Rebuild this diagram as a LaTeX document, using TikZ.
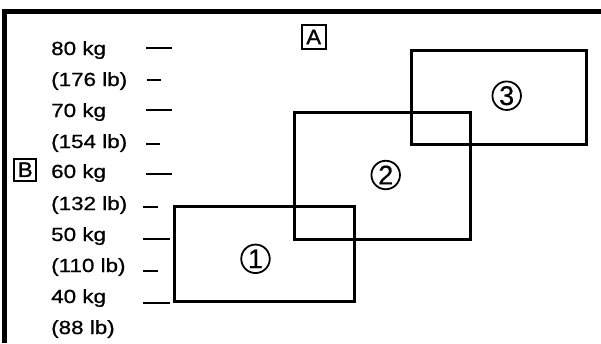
\documentclass[tikz,border=0pt]{standalone}
\usepackage{fontspec}
\setmainfont{Liberation Sans}[FakeStretch=1.18,FakeBold=0.8]
\newfontfamily\circfont{Liberation Sans}[FakeBold=0.5]
\newfontfamily\keyfont{Liberation Sans}[FakeStretch=1.05,FakeBold=1.2]
\begin{document}
\begin{tikzpicture}[x=1pt,y=-1pt,
  lbl/.style={anchor=base west,inner sep=0pt,font=\fontsize{19}{20}\selectfont},
  tick/.style={line width=2pt},
  rbox/.style={draw,line width=3pt,rectangle,inner sep=0pt},
  cnum/.style={draw,circle,line width=1.8pt,minimum size=28.5pt,inner sep=0pt,font=\circfont\fontsize{27}{28}\selectfont},
  keybox/.style={draw,line width=2pt,rectangle,inner sep=0pt,font=\keyfont\fontsize{21}{22}\selectfont}]
\useasboundingbox (0,0) rectangle (601,343);
% frame
\coordinate (tl) at (4.7,11.7);
\coordinate (tr) at (601,11.7);
\coordinate (bl) at (4.7,343);
\draw[line width=4.6pt] (tr) -- (tl) -- (bl);
% labels
\node[lbl] (l80) at (51,55) {80 kg};
\node[lbl] (l176) at (51,86) {(176 lb)};
\node[lbl] (l70) at (51,117) {70 kg};
\node[lbl] (l154) at (51,148) {(154 lb)};
\node[lbl] (l60) at (51,178) {60 kg};
\node[lbl] (l132) at (51,210) {(132 lb)};
\node[lbl] (l50) at (51,241) {50 kg};
\node[lbl] (l110) at (51,272) {(110 lb)};
\node[lbl] (l40) at (51,303) {40 kg};
\node[lbl] (l88) at (51,334) {(88 lb)};
% ticks
\coordinate (t1a) at (146,47.7); \coordinate (t1b) at (172,47.7);
\coordinate (t2a) at (147,80);   \coordinate (t2b) at (161,80);
\coordinate (t3a) at (146,110);  \coordinate (t3b) at (172,110);
\coordinate (t4a) at (146,144);  \coordinate (t4b) at (160,144);
\coordinate (t5a) at (146,174);  \coordinate (t5b) at (172,174);
\coordinate (t6a) at (143,207);  \coordinate (t6b) at (158,207);
\coordinate (t7a) at (143,239);  \coordinate (t7b) at (170,239);
\coordinate (t8a) at (143,271);  \coordinate (t8b) at (158,271);
\coordinate (t9a) at (143,303);  \coordinate (t9b) at (170,303);
\foreach \i in {1,...,9} {\draw[tick] (t\i a) -- (t\i b);}
% key boxes
\node[keybox,minimum width=24pt,minimum height=24pt] (A) at (313.7,37) {A};
\node[keybox,minimum width=22pt,minimum height=22pt] (B) at (25.3,169.7) {B};
% rectangles
\node[rbox,minimum width=180pt,minimum height=95pt] (b1) at (264,253.5) {};
\node[rbox,minimum width=176pt,minimum height=127pt] (b2) at (382.7,175.5) {};
\node[rbox,minimum width=174.7pt,minimum height=94pt] (b3) at (499.3,97) {};
% circled numbers
\node[cnum] (n1) at (255.5,258.8) {1};
\node[cnum] (n2) at (385.7,175) {2};
\node[cnum] (n3) at (506.7,95.7) {3};
\end{tikzpicture}
\end{document}
